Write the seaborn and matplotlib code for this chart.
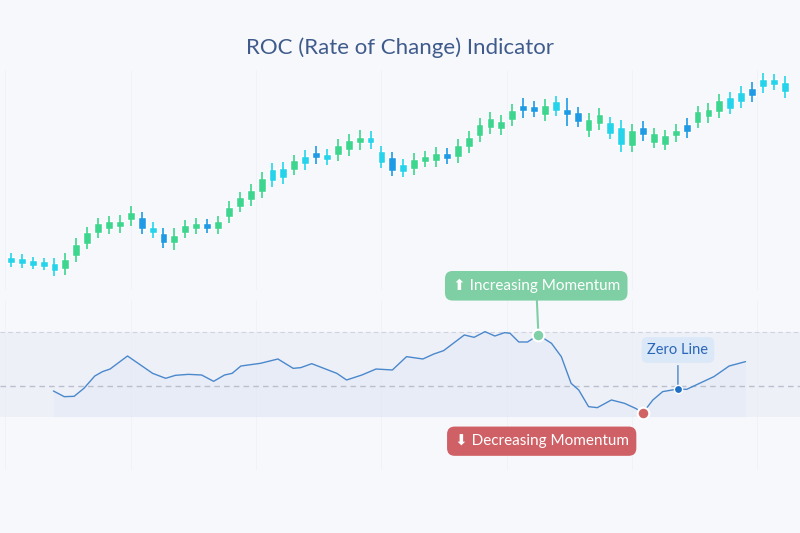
import matplotlib
matplotlib.use("Agg")
import matplotlib.pyplot as plt
import numpy as np
import pandas as pd
import seaborn as sns

# candle mid prices, colour kind and half body size
mid = [40, 39, 37, 36, 33, 36, 50, 62, 72, 75, 76, 84, 77, 70, 62, 61, 71, 74, 74, 75,
       88, 98, 105, 115, 125, 127, 135, 140, 145, 143, 150, 155, 160, 160, 143, 136, 132, 136,
       141, 143, 144, 149, 158, 170, 177, 175, 185, 192, 191, 190, 194, 188, 183, 175, 181,
       172, 164, 162, 169, 162, 160, 167, 172, 183, 187, 194, 197, 203, 208, 217, 218, 213]
kind = list("cccccggggggg" "bcbgggbggggg" "ccgcbcgggccb" "cggg" "bgggggg" "bbgcbbggccgb"
            "gggbgggccbcc")
body = [3, 3, 3, 3, 4, 5, 6, 6, 5, 4, 3, 4, 6, 3, 5, 4, 4, 3, 3, 4,
        5, 5, 5, 7, 6, 5, 5, 4, 3, 3, 5, 5, 3, 3, 6, 7, 4, 5,
        3, 4, 3, 6, 5, 6, 5, 4, 5, 3, 3, 5, 5, 3, 5, 6, 5,
        6, 9, 8, 4, 5, 5, 3, 4, 6, 4, 6, 6, 5, 4, 4, 3, 5]
wick = [4, 4, 3, 3, 5, 6, 6, 5, 5, 5, 6, 6, 5, 5, 5, 7, 5, 5, 4, 5,
        6, 5, 6, 6, 6, 6, 5, 6, 6, 5, 6, 6, 7, 6, 5, 5, 5, 6,
        5, 6, 5, 6, 6, 6, 6, 6, 6, 7, 5, 6, 5, 11, 5, 6, 6,
        5, 7, 6, 6, 5, 5, 6, 6, 5, 6, 6, 5, 6, 6, 6, 5, 6]
palette = {"g": "#3ed68e", "c": "#25d4ea", "b": "#1f9be6"}

# ROC line (day index, percent)
roc_day = [3.9, 4.9, 5.8, 6.7, 7.7, 8.4, 9.1, 10.7, 13.0, 14.2, 15.1, 16.3, 17.5, 18.6, 19.6,
           20.3, 21.1, 22.9, 24.5, 25.9, 26.6, 27.6, 29.9, 30.8, 32.2, 33.5, 35.0, 36.3, 37.8,
           38.8, 39.7, 41.6, 42.5, 43.5, 44.4, 45.3, 45.8, 46.6, 47.4, 48.4, 49.6, 50.5, 51.4,
           52.1, 53.0, 53.8, 55.1, 56.3, 57.3, 58.0, 58.9, 59.8, 61.2, 62.0, 64.5, 65.9, 67.4]
roc = [-0.83, -1.78, -1.72, -0.39, 1.67, 2.39, 2.83, 5.0, 2.11, 1.28, 1.78, 1.94, 1.83, 0.78,
       1.83, 2.11, 3.33, 3.78, 4.5, 2.94, 3.06, 3.72, 2.11, 1.0, 1.83, 2.83, 2.67, 4.89, 4.5,
       5.33, 5.89, 8.5, 8.11, 9.06, 8.33, 8.89, 8.78, 7.33, 7.33, 8.5, 7.11, 4.89, 0.44, -0.67,
       -3.44, -3.61, -2.33, -2.89, -3.72, -4.44, -2.33, -0.94, -0.5, -0.56, 1.56, 3.33, 4.06]
peak = (48.4, 8.5)
trough = (58.0, -4.44)
zero_pt = (61.2, -0.5)
band = (-5.1, 9.0)

sns.set_theme(style="white")
plt.rcParams["font.family"] = ["Lato", "DejaVu Sans"]

fig = plt.figure(figsize=(8, 5.33), dpi=100)
fig.patch.set_facecolor("#f7f8fc")
W, H = 800, 533
ax = fig.add_axes([0, 1 - 290 / H, 1, 220 / H])
ax2 = fig.add_axes([0, 1 - 470 / H, 1, 170 / H])
xlim = (-1.0, 72.4)

# candles
x = np.arange(len(mid))
cols = [palette[k] for k in kind]
lo = [m - b for m, b in zip(mid, body)]
ax.vlines(x, [m - b - w for m, b, w in zip(mid, body, wick)],
          [m + b + w for m, b, w in zip(mid, body, wick)], colors=cols, lw=1.2)
ax.bar(x, [2 * b for b in body], bottom=lo, color=cols, width=0.72)
ax.set_xlim(*xlim)
ax.set_ylim(10, 230)

# ROC panel
ax2.set_xlim(*xlim)
ax2.set_ylim(-14, 14.33)
ax2.axhspan(band[0], band[1], color="#eceef7", alpha=0.8, lw=0)
ax2.axhline(band[1], color="#cfd3e0", lw=0.8, ls=(0, (4, 3)))
ax2.axhline(0, color="#b9bfcc", lw=1, ls=(0, (4, 3)))
df = pd.DataFrame({"day": roc_day, "roc": roc})
ax2.fill_between(df["day"], df["roc"], band[0], color="#dfe5f4", alpha=0.35, lw=0)
sns.lineplot(data=df, x="day", y="roc", ax=ax2, color="#4a88cc", lw=1)

for a in (ax, ax2):
    a.set_facecolor("none")
    for s in a.spines.values():
        s.set_visible(False)
    a.set_xticks([])
    a.set_yticks([])
    a.set_xlabel("")
    a.set_ylabel("")
    for gx in [-0.5, 11, 22.5, 34, 45.5, 57, 68.5]:
        a.axvline(gx, color="#f0f2f7", lw=0.7, zorder=0)

ax2.scatter(*peak, s=70, color="#7fd0a6", edgecolor="white", lw=1.5, zorder=5)
ax2.scatter(*trough, s=70, color="#d06464", edgecolor="white", lw=1.5, zorder=5)
ax2.scatter(*zero_pt, s=35, color="#1f6fc4", edgecolor="white", lw=1, zorder=5)

ax2.annotate("⬆ Increasing Momentum", xy=peak, xytext=(peak[0] - 0.2, 16.7),
             ha="center", va="center", color="white", fontsize=11, annotation_clip=False,
             bbox=dict(boxstyle="round,pad=0.5", fc="#7fcfa4", ec="none"),
             arrowprops=dict(arrowstyle="-", color="#7fcfa4", lw=1.5, shrinkA=0, shrinkB=4))
ax2.annotate("⬇ Decreasing Momentum", xy=trough, xytext=(trough[0] - 9.3, -9.2),
             ha="center", va="center", color="white", fontsize=11, annotation_clip=False,
             bbox=dict(boxstyle="round,pad=0.5", fc="#cf6166", ec="none"))
ax2.annotate("Zero Line", xy=zero_pt, xytext=(zero_pt[0], 6.0),
             ha="center", va="center", color="#2a66b8", fontsize=10.5, annotation_clip=False,
             bbox=dict(boxstyle="round,pad=0.4", fc="#dbe8f8", ec="none"),
             arrowprops=dict(arrowstyle="-", color="#4a88cc", lw=1, shrinkA=2, shrinkB=3))

fig.text(0.5, 1 - 48 / H, "ROC (Rate of Change) Indicator", ha="center", va="center",
         fontsize=16, color="#3f5b8c")

fig.savefig("out.png", dpi=100, facecolor=fig.get_facecolor())
